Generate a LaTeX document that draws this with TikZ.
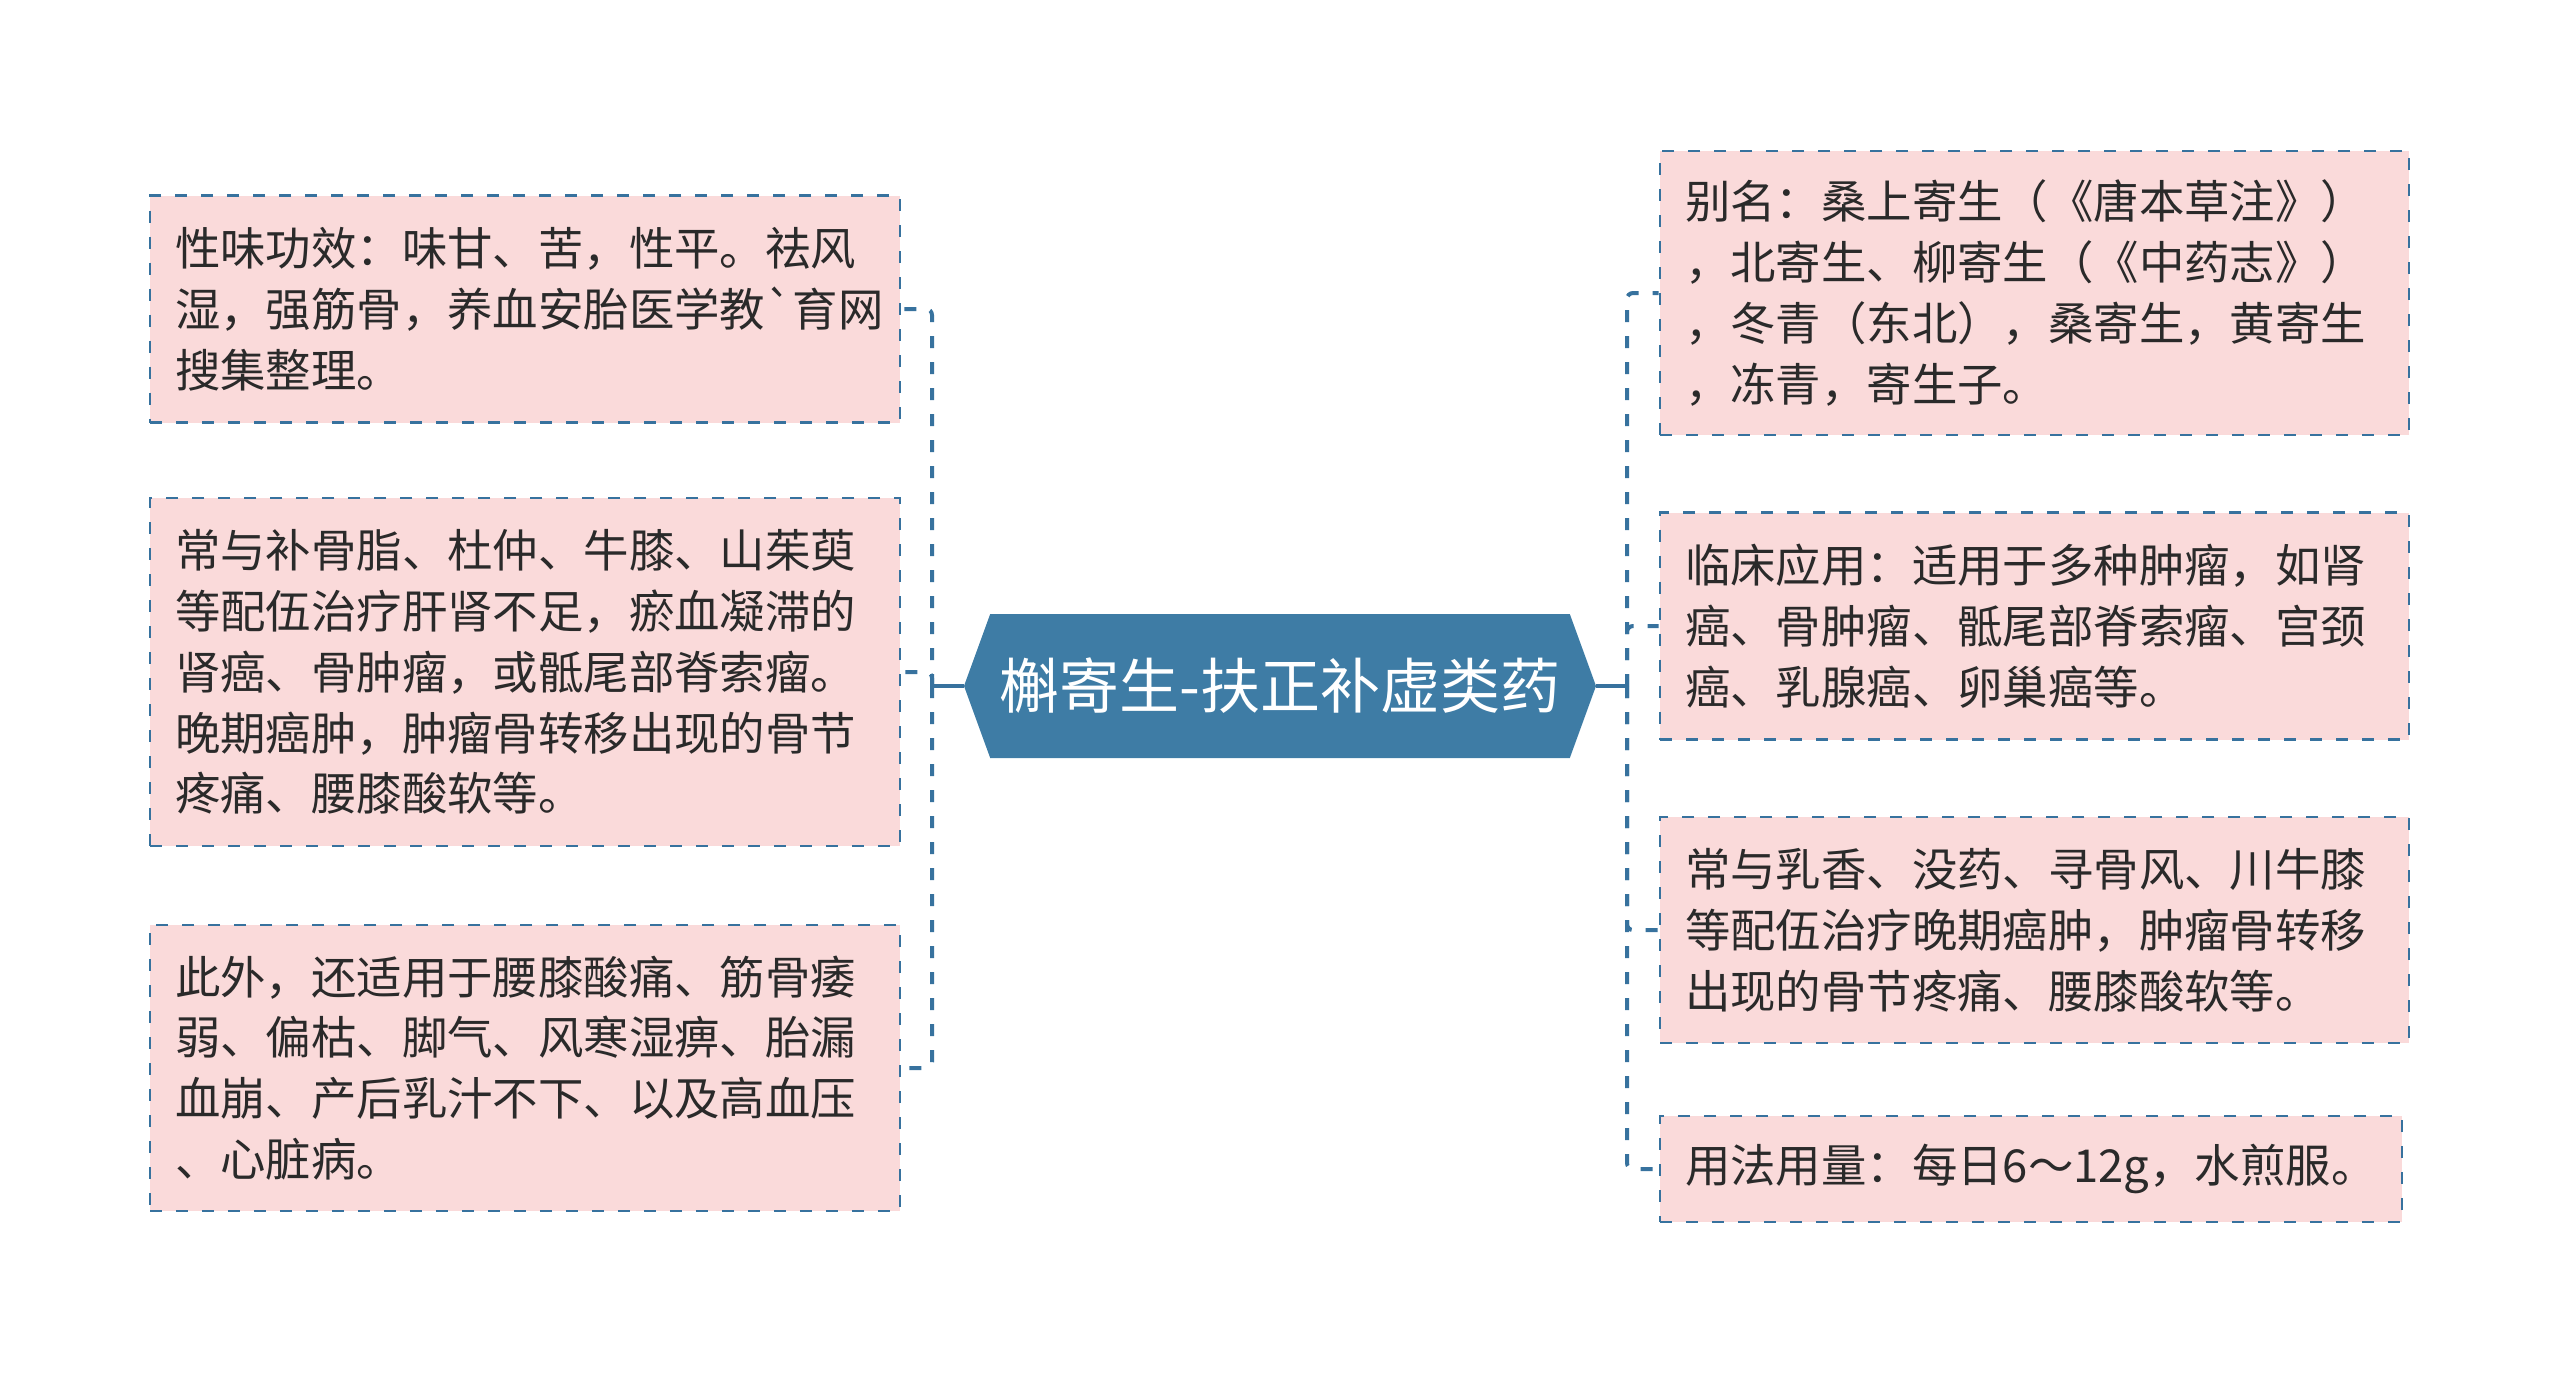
\documentclass[tikz,border=0pt]{standalone}
\usepackage{fontspec}
\newfontfamily\cjk{Noto Sans CJK SC}[Ligatures=TeXOff]
\usetikzlibrary{shapes.symbols}
\definecolor{hexblue}{HTML}{3E7CA5}
\definecolor{linkblue}{HTML}{37729E}
\definecolor{leafpink}{HTML}{FADADA}
\definecolor{inktext}{HTML}{2A2A2A}

\begin{document}
\begin{tikzpicture}[x=0.5pt, y=-0.5pt,
    leaf/.style={draw=linkblue, line width=1.4pt, dash pattern=on 6pt off 7pt,
      fill=leafpink, text=inktext, text width=350pt, inner xsep=12.5pt, inner ysep=0pt,
      align=left, font=\cjk\fontsize{22.7}{30.4}\selectfont},
    link/.style={draw=linkblue, line width=2pt, dash pattern=on 6pt off 7pt, rounded corners=3pt},
    trunk/.style={draw=linkblue, line width=2pt}]
    \useasboundingbox (0,0) rectangle (2560,1373);
    % centre
    \node[signal, signal to=west and east, signal pointer angle=140, fill=hexblue,
      text=white, minimum width=316pt, minimum height=72pt, inner sep=0pt,
      font=\cjk\fontsize{30}{36}\selectfont] (root) at (1280,686) {槲寄生-扶正补虚类药};
    \coordinate (lj) at (932,686);
    \coordinate (rj) at (1627,686);
    % left side
    \node[leaf, minimum height=113.5pt] (l1) at (525,309)
      {性味功效：味甘、苦，性平。祛风\\湿，强筋骨，养血安胎医学教`育网\\搜集整理。};
    \node[leaf, minimum height=174pt] (l2) at (525,672)
      {常与补骨脂、杜仲、牛膝、山茱萸\\等配伍治疗肝肾不足，瘀血凝滞的\\肾癌、骨肿瘤，或骶尾部脊索瘤。\\晚期癌肿，肿瘤骨转移出现的骨节\\疼痛、腰膝酸软等。};
    \node[leaf, minimum height=143pt] (l3) at (525,1068)
      {此外，还适用于腰膝酸痛、筋骨痿\\弱、偏枯、脚气、风寒湿痹、胎漏\\血崩、产后乳汁不下、以及高血压\\、心脏病。};
    % right side
    \node[leaf, minimum height=142pt, text width=349.5pt] (r1) at (2034.5,293)
      {别名：桑上寄生（《唐本草注》）\\，北寄生、柳寄生（《中药志》）\\，冬青（东北），桑寄生，黄寄生\\，冻青，寄生子。};
    \node[leaf, minimum height=113.5pt, text width=349.5pt] (r2) at (2034.5,626)
      {临床应用：适用于多种肿瘤，如肾\\癌、骨肿瘤、骶尾部脊索瘤、宫颈\\癌、乳腺癌、卵巢癌等。};
    \node[leaf, minimum height=113pt, text width=349.5pt] (r3) at (2034.5,930)
      {常与乳香、没药、寻骨风、川牛膝\\等配伍治疗晚期癌肿，肿瘤骨转移\\出现的骨节疼痛、腰膝酸软等。};
    \node[leaf, minimum height=53pt, text width=346pt] (r4) at (2031,1169)
      {用法用量：每日6～12g，水煎服。};
    % links
    \draw[trunk] (root.west) -- (lj);
    \draw[trunk] (root.east) -- (rj);
    \draw[link] (lj) |- (l1.east);
    \draw[link] (lj) |- (l2.east);
    \draw[link] (lj) |- (l3.east);
    \draw[link] (rj) |- (r1.west);
    \draw[link] (rj) |- (r2.west);
    \draw[link] (rj) |- (r3.west);
    \draw[link] (rj) |- (r4.west);
\end{tikzpicture}
\end{document}
